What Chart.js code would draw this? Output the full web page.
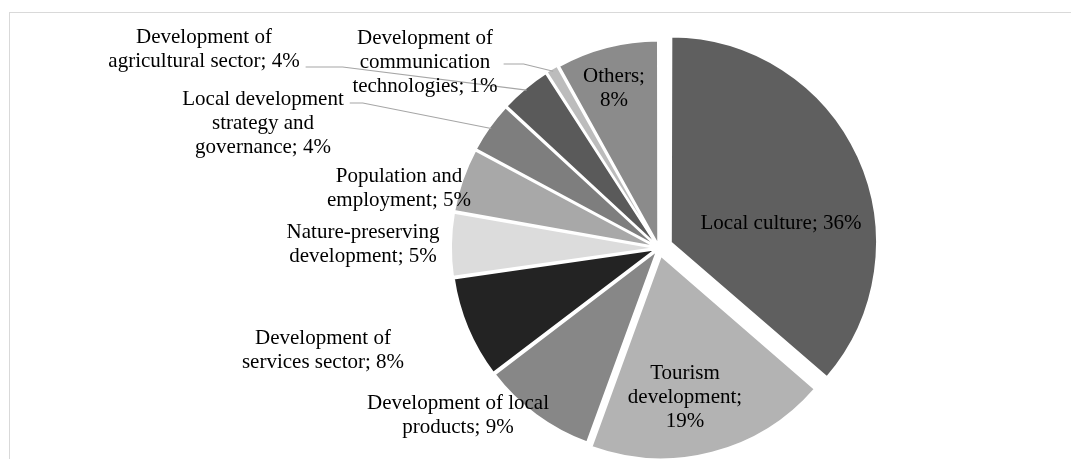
<!DOCTYPE html>
<html>
<head>
<meta charset="utf-8">
<script src="https://cdn.jsdelivr.net/npm/chart.js@4.4.1/dist/chart.umd.min.js"></script>
<style>
    html, body { margin: 0; padding: 0; background: #fff; overflow: hidden; }
    #frame {
        position: absolute; left: 9px; top: 12px; width: 1200px; height: 600px;
        border: 1px solid #d9d9d9; box-sizing: border-box;
    }
    #pie { position: absolute; left: 0; top: 0; }
</style>
</head>
<body>
<div id="frame"></div>
<canvas id="pie" width="1071" height="459"></canvas>
<script>
// Data (clockwise from 12 o'clock)
const categories = [
    'Local culture',
    'Tourism development',
    'Development of local products',
    'Development of services sector',
    'Nature-preserving development',
    'Population and employment',
    'Local development strategy and governance',
    'Development of agricultural sector',
    'Development of communication technologies',
    'Others'
];
const shares = [36, 19, 9, 8, 5, 5, 4, 4, 1, 8];

// Styles
const sliceColors = ['#5f5f5f', '#b3b3b3', '#878787', '#232323', '#dcdcdc',
                     '#a8a8a8', '#7e7e7e', '#5a5a5a', '#bcbcbc', '#8b8b8b'];
const sliceOffsets = [52, 32, 12, 12, 12, 12, 12, 12, 12, 12];

// Label layout: offset of label centre from pie centre, wrap width, leader
const labelLayout = [
    { dx: 122, dy: -25, wrap: 300 },
    { dx: 26, dy: 149, wrap: 120 },
    { dx: -201, dy: 167, wrap: 190 },
    { dx: -336, dy: 102, wrap: 165 },
    { dx: -296, dy: -4, wrap: 160 },
    { dx: -260, dy: -60, wrap: 150 },
    { dx: -396, dy: -125, wrap: 170, leader: { attach: -20, elbow: 13 } },
    { dx: -455, dy: -199, wrap: 195, leader: { attach: 18, elbow: 37 } },
    { dx: -234, dy: -186, wrap: 150, leader: { attach: 2, elbow: 20 } },
    { dx: -45, dy: -160, wrap: 70 }
];
const LINE_H = 24;
const LABEL_FONT = '21px "Liberation Serif", "Times New Roman", serif';

function wrapText(ctx, text, maxW) {
    const words = text.split(' ');
    const lines = [];
    let cur = '';
    words.forEach(w => {
        const test = cur ? cur + ' ' + w : w;
        if (cur && ctx.measureText(test).width > maxW) {
            lines.push(cur);
            cur = w;
        } else {
            cur = test;
        }
    });
    if (cur) lines.push(cur);
    return lines;
}

const sliceLabels = {
    id: 'sliceLabels',
    afterDatasetsDraw(chart) {
        const ctx = chart.ctx;
        const arcs = chart.getDatasetMeta(0).data;
        if (!arcs.length) return;
        const cx = arcs[0].x, cy = arcs[0].y;
        ctx.save();
        ctx.font = LABEL_FONT;
        ctx.textAlign = 'center';
        ctx.textBaseline = 'middle';
        arcs.forEach((arc, i) => {
            const lay = labelLayout[i];
            const text = categories[i] + '; ' + shares[i] + '%';
            const lines = wrapText(ctx, text, lay.wrap);
            const x = cx + lay.dx, y = cy + lay.dy;
            const top = y - (lines.length - 1) * LINE_H / 2;
            ctx.fillStyle = '#000';
            lines.forEach((t, k) => ctx.fillText(t, x, top + k * LINE_H));

            if (lay.leader) {
                const widest = Math.max(...lines.map(t => ctx.measureText(t).width));
                const sx = x + widest / 2 + 6;
                const sy = y + lay.leader.attach;
                const mid = (arc.startAngle + arc.endAngle) / 2;
                const shift = (arc.options.offset || 0) / 4;
                const r = arc.outerRadius;
                const ex = arc.x + Math.cos(mid) * (r + shift);
                const ey = arc.y + Math.sin(mid) * (r + shift);
                ctx.strokeStyle = '#a6a6a6';
                ctx.lineWidth = 1.2;
                ctx.beginPath();
                ctx.moveTo(sx, sy);
                ctx.lineTo(sx + lay.leader.elbow, sy);
                ctx.lineTo(ex, ey);
                ctx.stroke();
            }
        });
        ctx.restore();
    }
};

const chart = new Chart(document.getElementById('pie'), {
    type: 'pie',
    data: {
        labels: categories,
        datasets: [{
            data: shares,
            backgroundColor: sliceColors,
            borderColor: '#ffffff',
            borderWidth: 2,
            offset: sliceOffsets,
            radius: 203,
            clip: false
        }]
    },
    options: {
        responsive: false,
        animation: false,
        events: [],
        layout: { padding: { left: 247, right: 0, top: 37, bottom: 0 } },
        plugins: {
            legend: { display: false },
            tooltip: { enabled: false }
        }
    },
    plugins: [sliceLabels]
});
</script>
</body>
</html>
